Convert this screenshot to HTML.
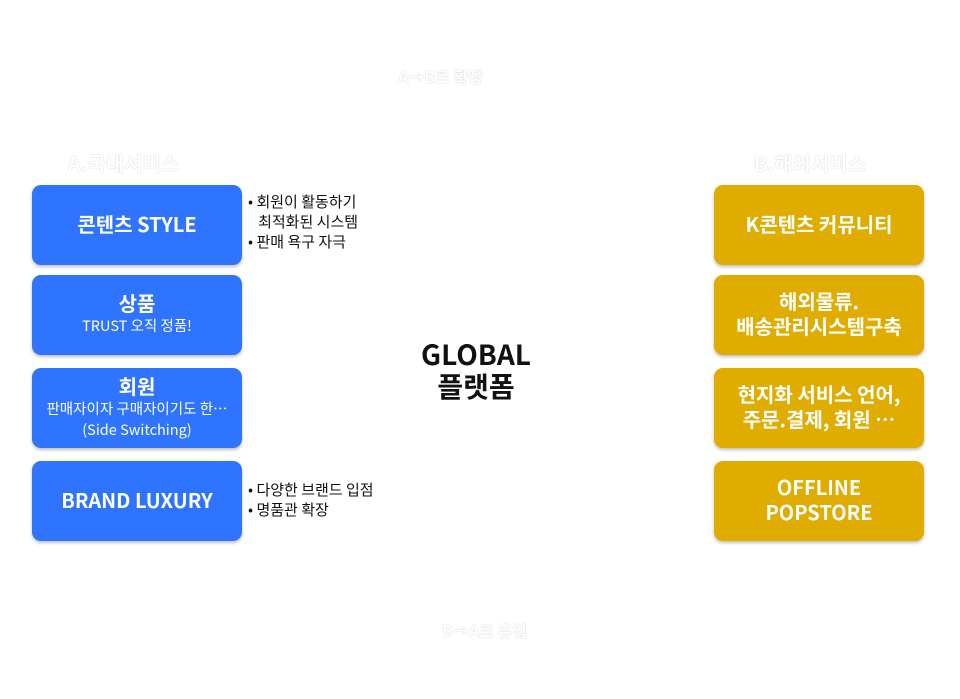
<!DOCTYPE html>
<html><head><meta charset="utf-8"><style>
body{margin:0;width:960px;height:699px;background:#fff;position:relative;overflow:hidden;font-family:"Noto Sans CJK KR","Liberation Sans",sans-serif;}
.b{position:absolute;width:210px;height:80px;border-radius:9px;color:#fff;display:flex;flex-direction:column;justify-content:center;align-items:center;text-align:center;box-shadow:0 2px 3px rgba(0,0,0,0.25);}
.b>div{position:relative;top:-2px;}
.l{left:32px;background:#2f74fe;}
.r{left:714px;background:#e0ac00;}
.t{font-weight:bold;font-size:20px;line-height:25px;}
.s{font-size:14.5px;line-height:21px;}
.g{position:absolute;color:#fff;font-size:18px;font-weight:bold;text-shadow:0 0 1px #aaa;}
.n{position:absolute;font-size:15px;line-height:20px;color:#111;}
</style></head><body>
<div class="g" style="left:398px;top:64px;font-size:16px">A→B로 확장</div>
<div class="g" style="left:68px;top:148px;font-size:20px">A.국내서비스</div>
<div class="g" style="left:754px;top:148px;font-size:20px">B.해외서비스</div>
<div class="g" style="left:442px;top:618px;font-size:16px">B→A로 유입</div>

<div class="b l" style="top:185px"><div class="t">콘텐츠 STYLE</div></div>
<div class="b l" style="top:275px"><div class="t">상품</div><div class="s">TRUST 오직 정품!</div></div>
<div class="b l" style="top:368px"><div class="t">회원</div><div class="s">판매자이자 구매자이기도 한…<br>(Side Switching)</div></div>
<div class="b l" style="top:461px"><div class="t">BRAND LUXURY</div></div>

<div class="n" style="left:248px;top:192px">• 회원이 활동하기<br>&nbsp;&nbsp;&nbsp;최적화된 시스템<br>• 판매 욕구 자극</div>
<div class="n" style="left:248px;top:480px">• 다양한 브랜드 입점<br>• 명품관 확장</div>

<div style="position:absolute;left:376px;top:338px;width:200px;text-align:center;font-weight:bold;font-size:28px;line-height:32px;color:#111">GLOBAL<br>플랫폼</div>

<div class="b r" style="top:185px"><div class="t">K콘텐츠 커뮤니티</div></div>
<div class="b r" style="top:275px"><div class="t">해외물류.<br>배송관리시스템구축</div></div>
<div class="b r" style="top:368px"><div class="t">현지화 서비스 언어,<br>주문.결제, 회원 …</div></div>
<div class="b r" style="top:461px"><div class="t">OFFLINE<br>POPSTORE</div></div>
</body></html>
